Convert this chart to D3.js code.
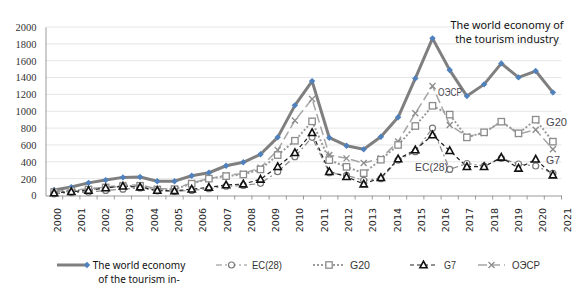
<!DOCTYPE html>
<html><head><meta charset="utf-8">
<script src="https://cdn.jsdelivr.net/npm/d3@7"></script>
<style>
html,body{margin:0;padding:0;background:#fff;}
svg{display:block;}
</style></head>
<body><svg id="c" width="583" height="290"></svg>
<script>
// ---- data ----
const categories = ["1","2","3","4","5","6","7","8","9","10","11","12","13","14","15","16","17","18","19","20","21","22","23","24","25","26","27","28","29","30"];
const yearLabels = ["2000","2001","2002","2003","2004","2005","2006","2007","2008","2009","2010","2011","2012","2013","2014","2015","2016","2017","2018","2019","2020","2021"];
const yTicks = [0,200,400,600,800,1000,1200,1400,1600,1800,2000];
const world = [65,100,150,183,215,220,170,170,235,270,353,394,489,690,1070,1358,686,591,548,697,928,1390,1865,1489,1180,1319,1568,1402,1477,1224];
const ec28  = [20,35,40,60,75,90,55,50,60,80,110,120,144,283,460,690,270,240,180,200,420,520,800,310,380,350,440,374,350,263];
const g20   = [40,55,70,95,110,115,70,75,140,200,230,250,310,480,650,880,420,340,265,425,600,825,1065,960,690,750,876,738,900,639];
const g7    = [30,45,60,90,110,100,60,55,75,97,125,136,192,342,508,745,283,223,136,211,433,540,718,532,342,342,453,323,430,243];
const oecd  = [50,60,80,100,125,125,80,80,150,200,240,260,330,540,890,1145,480,441,385,440,640,976,1300,837,700,740,880,730,780,548];
const titleLines = ["The world economy of","the tourism industry"];
const legendWorld = ["The world economy","of the tourism in-"];

// ---- drawing ----
const svg = d3.select("#c");
const x = d3.scaleBand().domain(categories).range([45.5, 561.5]).padding(0);
const y = d3.scaleLinear().domain([0,2000]).range([195.5, 27]);
const xc = d => x(d) + x.bandwidth()/2;

// gridlines
svg.append("g").selectAll("line").data(yTicks.filter(v=>v>0)).join("line")
  .attr("x1",45.5).attr("x2",561.5).attr("y1",d=>y(d)).attr("y2",d=>y(d))
  .attr("stroke","#e6e6e6").attr("stroke-width",1);

// y axis
const yAxis = svg.append("g").attr("transform","translate(45.5,0)")
  .call(d3.axisLeft(y).tickValues(yTicks).tickFormat(d3.format("d")).tickSize(0).tickPadding(9));
yAxis.select(".domain").attr("stroke","#9a9a9a");
yAxis.selectAll("text").attr("font-family","'Liberation Serif',serif").attr("font-size",10.5).attr("fill","#333");

// x axis (category ticks)
const xAxis = svg.append("g").attr("transform","translate(0,195.5)")
  .call(d3.axisBottom(x).tickSize(0).tickFormat(""));
xAxis.select(".domain").attr("stroke","#9a9a9a");
svg.append("g").selectAll("line").data(categories).join("line")
  .attr("x1",d=>x(d)+x.bandwidth()).attr("x2",d=>x(d)+x.bandwidth())
  .attr("y1",195.5).attr("y2",199.5).attr("stroke","#9a9a9a");

// year labels (separate point scale)
const xy = d3.scalePoint().domain(yearLabels).range([57, 567]);
svg.append("g").selectAll("text").data(yearLabels).join("text")
  .attr("transform",d=>`translate(${xy(d)+3.5},208) rotate(-90)`)
  .attr("text-anchor","end").attr("font-family","'DejaVu Sans',sans-serif")
  .attr("font-size",9.5).attr("fill","#222").text(d=>d);

const line = d3.line().x((d,i)=>xc(categories[i])).y(d=>y(d));

const series = [
  {name:"ОЭСР", data:oecd, stroke:"#a6a6a6", width:1.5, dash:"9,4", marker:"x"},
  {name:"G20", data:g20, stroke:"#9a9a9a", width:2, dash:"2,2", marker:"square"},
  {name:"EC(28)", data:ec28, stroke:"#8a8a8a", width:1.2, dash:"6,3,2,3", marker:"circle"},
  {name:"G7", data:g7, stroke:"#222", width:1.2, dash:"4,3", marker:"triangle"},
];

function drawMarker(g, type, cx, cy){
  if(type==="x"){
    g.append("path").attr("d",`M${cx-3},${cy-3}L${cx+3},${cy+3}M${cx-3},${cy+3}L${cx+3},${cy-3}`)
      .attr("stroke","#8c8c8c").attr("stroke-width",1.3).attr("fill","none");
  } else if(type==="square"){
    g.append("rect").attr("x",cx-3.2).attr("y",cy-3.2).attr("width",6.4).attr("height",6.4)
      .attr("fill","#fff").attr("stroke","#8c8c8c").attr("stroke-width",1.3);
  } else if(type==="circle"){
    g.append("circle").attr("cx",cx).attr("cy",cy).attr("r",3)
      .attr("fill","#fff").attr("stroke","#7a7a7a").attr("stroke-width",1.2);
  } else if(type==="triangle"){
    g.append("path").attr("d",`M${cx},${cy-3.8}L${cx+3.6},${cy+2.8}L${cx-3.6},${cy+2.8}Z`)
      .attr("fill","#fff").attr("stroke","#111").attr("stroke-width",1.6);
  } else if(type==="diamond"){
    g.append("path").attr("d",`M${cx},${cy-3.2}L${cx+3.2},${cy}L${cx},${cy+3.2}L${cx-3.2},${cy}Z`)
      .attr("fill","#4f81bd");
  }
}

// world line
svg.append("path").datum(world).attr("d",line).attr("fill","none")
  .attr("stroke","#7f7f7f").attr("stroke-width",3).attr("stroke-linejoin","round");
const wm = svg.append("g");
world.forEach((v,i)=>drawMarker(wm,"diamond",xc(categories[i]),y(v)));

series.forEach(s=>{
  svg.append("path").datum(s.data).attr("d",line).attr("fill","none")
    .attr("stroke",s.stroke).attr("stroke-width",s.width).attr("stroke-dasharray",s.dash);
});
series.forEach(s=>{
  const g = svg.append("g");
  s.data.forEach((v,i)=>drawMarker(g,s.marker,xc(categories[i]),y(v)));
});

// in-chart labels
const lblFont = "'Liberation Sans',sans-serif";
const inLabels = [
  {t:"ОЭСР", x:438, y:96, w:24},
  {t:"G20", x:546, y:126, w:21},
  {t:"G7", x:546, y:164, w:14},
  {t:"EC(28)", x:415, y:171, w:33},
];
svg.append("g").selectAll("text").data(inLabels).join("text")
  .attr("x",d=>d.x).attr("y",d=>d.y).attr("font-family",lblFont).attr("font-size",11.5)
  .attr("textLength",d=>d.w).attr("lengthAdjust","spacingAndGlyphs")
  .attr("fill","#4a4550").text(d=>d.t);

// title
svg.append("g").selectAll("text").data(titleLines).join("text")
  .attr("x",507).attr("y",(d,i)=>29+i*13.5).attr("text-anchor","middle")
  .attr("font-family","'Noto Sans',sans-serif").attr("font-size",10.8).attr("fill","#111").text(d=>d);

// legend
const lg = svg.append("g");
lg.append("line").attr("x1",57).attr("x2",86).attr("y1",265).attr("y2",265)
  .attr("stroke","#7f7f7f").attr("stroke-width",3);
drawMarker(lg,"diamond",87,265);
lg.selectAll("text.w").data(legendWorld).join("text").attr("class","w")
  .attr("x",139).attr("y",(d,i)=>269+i*14).attr("text-anchor","middle")
  .attr("font-family","'Noto Sans',sans-serif").attr("font-size",10).attr("fill","#111").text(d=>d);

const legItems = [
  {s:series[2], x1:216, x2:247, tx:252, w:30},
  {s:series[1], x1:313, x2:345, tx:350, w:20},
  {s:series[3], x1:410, x2:437, tx:444, w:12},
  {s:series[0], x1:478, x2:505, tx:512, w:28},
];
legItems.forEach(it=>{
  lg.append("line").attr("x1",it.x1).attr("x2",it.x2).attr("y1",265).attr("y2",265)
    .attr("stroke",it.s.stroke).attr("stroke-width",it.s.width).attr("stroke-dasharray",it.s.dash);
  drawMarker(lg,it.s.marker,(it.x1+it.x2)/2,265);
  lg.append("text").attr("x",it.tx).attr("y",269).attr("font-family",lblFont)
    .attr("font-size",11).attr("textLength",it.w).attr("lengthAdjust","spacingAndGlyphs")
    .attr("fill","#333").text(it.s.name);
});
</script>
</body></html>
